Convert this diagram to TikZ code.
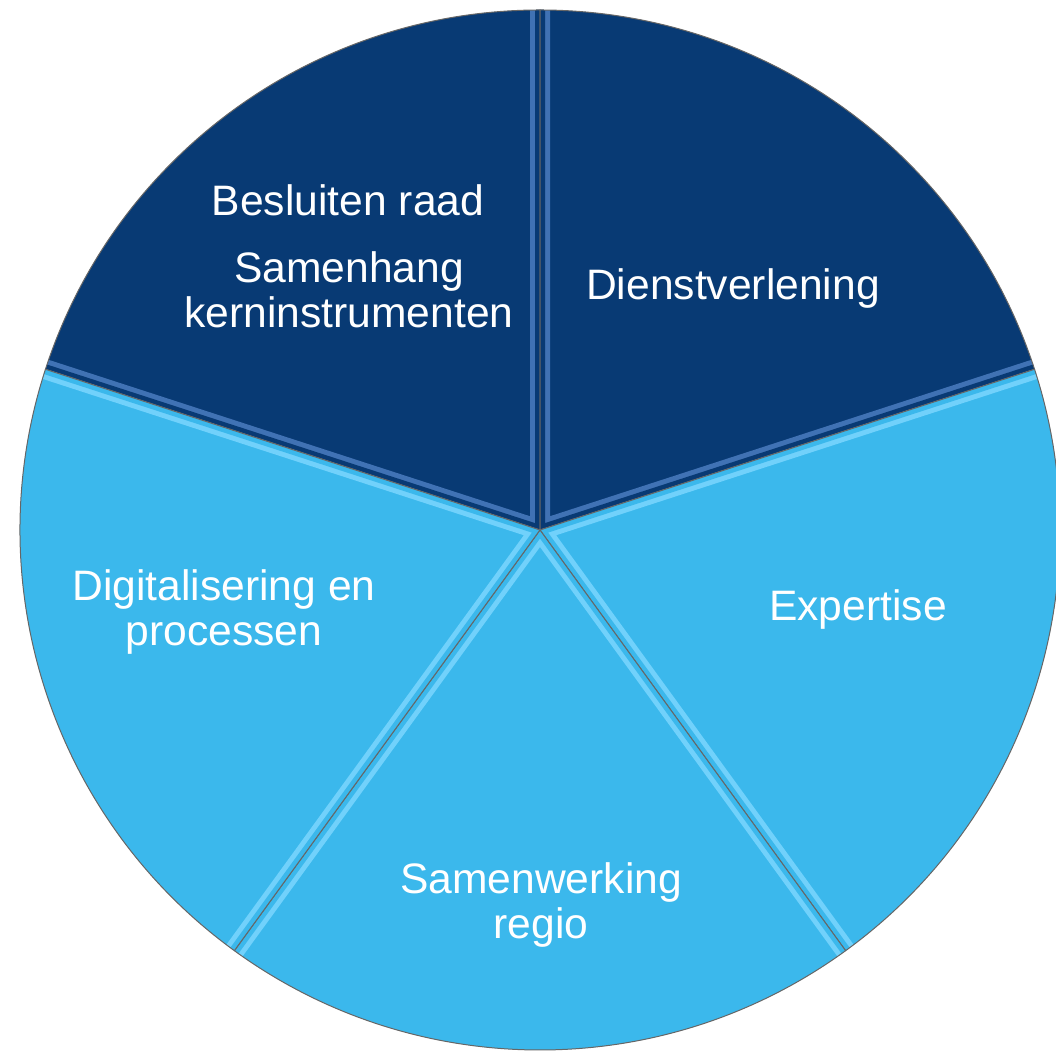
\documentclass[tikz,border=0pt]{standalone}
\usepackage{fontspec}
\setmainfont{Liberation Sans}
\definecolor{navy}{HTML}{083A74}
\definecolor{sky}{HTML}{3BB8EC}
\definecolor{navyhi}{HTML}{4F80C4}
\definecolor{skyhi}{HTML}{7FD8FF}

% one slice of the pie: start angle, end angle, fill, highlight
\newcommand{\pieslice}[4]{%
    \fill[#3] (c) -- ++(#1:520) arc[start angle=#1, end angle=#2, radius=520] -- cycle;
    \begin{scope}
        \clip (c) -- ++(#1:520) arc[start angle=#1, end angle=#2, radius=520] -- cycle;
        \draw[#4, line width=10pt, opacity=0.8] (c) -- ++(#1:540) (c) -- ++(#2:540);
        \draw[#3, line width=5pt] (c) -- ++(#1:540) (c) -- ++(#2:540);
    \end{scope}
    \draw[edge] (c) -- ++(#1:520) arc[start angle=#1, end angle=#2, radius=520] -- cycle;
}

\begin{document}
\begin{tikzpicture}[
        x=0.5pt, y=0.5pt,
        edge/.style={draw=black!60, line width=0.5pt, line join=round},
        lbl/.style={text=white, align=center, inner sep=0pt,
            font=\fontsize{21.3}{22.5}\selectfont},
    ]
    \useasboundingbox (0,0) rectangle (1056,1053);
    \coordinate (c) at (540,523);

    % slices
    \pieslice{90}{162}{navy}{navyhi}
    \pieslice{18}{90}{navy}{navyhi}
    \pieslice{-54}{18}{sky}{skyhi}
    \pieslice{-126}{-54}{sky}{skyhi}
    \pieslice{162}{234}{sky}{skyhi}

    % labels
    \node[lbl] (besluit) at (348,853) {Besluiten raad};
    \node[lbl] (samenhang) at (349,763) {Samenhang\\kerninstrumenten};
    \node[lbl] (dienst) at (733,764) {Dienstverlening};
    \node[lbl] (expertise) at (858,443) {Expertise};
    \node[lbl] (digitaal) at (224,441) {Digitalisering en\\processen};
    \node[lbl] (regio) at (541,148) {Samenwerking\\regio};

\end{tikzpicture}
\end{document}
